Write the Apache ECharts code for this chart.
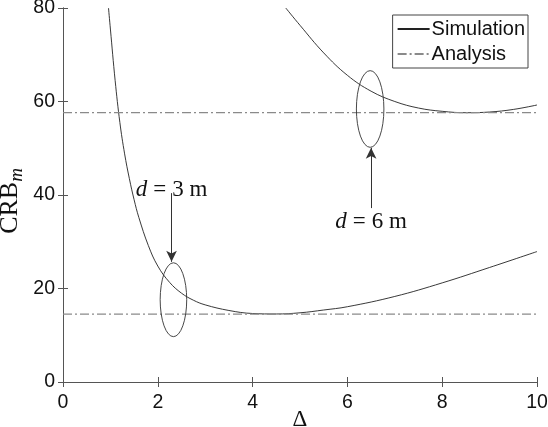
<!DOCTYPE html>
<html>
<head>
<meta charset="utf-8">
<script src="https://cdn.jsdelivr.net/npm/echarts@6/dist/echarts.min.js"></script>
<style>html,body{margin:0;padding:0;background:#fff}#c{width:548px;height:427px}</style>
</head>
<body>
<div id="c"></div>
<script>
// Δ values and CRB_m values
var delta3 = [0.96, 1.0, 1.1, 1.2, 1.3, 1.4, 1.5, 1.6, 1.8, 2.0, 2.25, 2.5, 2.75, 3.0, 3.5, 4.0, 4.5, 5.0, 5.5, 6.0, 7.0, 8.0, 9.0, 10.0];
var sim3   = [80, 75.5, 64.5, 55.5, 48.8, 43.5, 39.0, 35.2, 29.2, 24.8, 21.3, 19.0, 17.5, 16.5, 15.3, 14.65, 14.55, 14.8, 15.4, 16.1, 18.3, 21.2, 24.5, 27.9];
var delta6 = [4.70, 5.0, 5.5, 6.0, 6.5, 7.0, 7.5, 8.0, 8.5, 9.0, 9.5, 10.0];
var sim6   = [80, 76.3, 70.4, 65.6, 62.2, 60.0, 58.6, 57.9, 57.6, 57.75, 58.3, 59.25];
var analysis3 = 14.5;
var analysis6 = 57.6;
var xRange = [0, 10];
var xTicks = [0, 2, 4, 6, 8, 10];
var yTicks = [0, 20, 40, 60, 80];
// annotations: [centerΔ, centerCRB, radiusΔ, radiusCRB]
var ellipse3 = [2.33, 17.6, 0.28, 7.9];
var ellipse6 = [6.48, 58.4, 0.29, 8.2];
var arrow3 = [[2.29, 40.4], [2.29, 25.7]];
var arrow6 = [[6.50, 37.2], [6.50, 50.1]];
var label3 = {pos: [2.29, 41.0], n: '3'};
var label6 = {pos: [6.50, 34.3], n: '6'};

function pairs(xs, ys) { return xs.map(function (x, i) { return [x, ys[i]]; }); }

var axisColor = '#555';
var tickFont = {fontFamily: 'Liberation Sans, Arial, sans-serif', fontSize: 19.5, color: '#111'};
var serif = 'Liberation Serif, Times New Roman, serif';

var chart = echarts.init(document.getElementById('c'), null, {renderer: 'canvas'});

function ellipseRender(params, api) {
  var c = api.coord([api.value(0), api.value(1)]);
  var rx = api.size([api.value(2), 0])[0];
  var ry = api.size([0, api.value(3)])[1];
  var d = 'M' + (c[0] - rx) + ' ' + c[1] +
          ' A' + rx + ' ' + ry + ' 0 1 0 ' + (c[0] + rx) + ' ' + c[1] +
          ' A' + rx + ' ' + ry + ' 0 1 0 ' + (c[0] - rx) + ' ' + c[1] + ' Z';
  return {type: 'path', shape: {pathData: d}, style: {fill: 'none', stroke: '#333', lineWidth: 0.9}};
}
function textRender(params, api) {
  var c = api.coord([api.value(0), api.value(1)]);
  var n = params.dataIndex === 0 ? label3.n : label6.n;
  return {
    type: 'text', x: c[0], y: c[1],
    style: {
      text: '{i|d}{e|=}{t|' + n + ' m}',
      rich: {
        i: {fontStyle: 'italic', fontFamily: serif, fontSize: 23, fill: '#111'},
        e: {fontFamily: serif, fontSize: 23, fill: '#111', padding: [0, 6, 0, 6]},
        t: {fontFamily: serif, fontSize: 23, fill: '#111'}
      },
      align: 'center', verticalAlign: 'middle'
    }
  };
}

var dashDot = [9, 3, 2, 3];

chart.setOption({
  animation: false,
  backgroundColor: '#fff',
  grid: {left: 63, right: 11, top: 8, bottom: 45, containLabel: false, outerBoundsMode: 'none'},
  legend: {
    right: 20, top: 15, orient: 'vertical',
    data: ['Simulation', 'Analysis'],
    itemWidth: 32, itemHeight: 10, itemGap: 5,
    borderColor: '#444', borderWidth: 1, padding: [4, 3, 4, 4],
    backgroundColor: '#fff',
    itemStyle: {opacity: 0},
    textStyle: {fontFamily: 'Liberation Sans, Arial, sans-serif', fontSize: 20, color: '#111', padding: [0, 0, 0, -3]}
  },
  xAxis: [{
    type: 'value', min: xRange[0], max: xRange[1], interval: 2,
    name: 'Δ', nameLocation: 'middle', nameGap: 26, nameMoveOverlap: false,
    nameTextStyle: {fontFamily: serif, fontSize: 23, color: '#111'},
    axisLine: {show: true, lineStyle: {color: axisColor, width: 1}},
    axisTick: {show: true, inside: true, length: 5, lineStyle: {color: axisColor}},
    axisLabel: Object.assign({margin: 11, formatter: function (v) { return xTicks.indexOf(v) >= 0 ? String(v) : ''; }}, tickFont),
    splitLine: {show: false}
  }, {
    type: 'value', position: 'top', min: xRange[0], max: xRange[1], interval: 2,
    axisLine: {show: true, lineStyle: {color: axisColor, width: 1}},
    axisTick: {show: true, inside: true, length: 5, lineStyle: {color: axisColor}},
    axisLabel: {show: false}, splitLine: {show: false}
  }],
  yAxis: [{
    type: 'value', min: 0, max: 80, interval: 20,
    name: '{a|CRB}{b|m}', nameLocation: 'middle', nameGap: 37, nameRotate: 90, nameMoveOverlap: false,
    nameTextStyle: {
      rich: {
        a: {fontFamily: serif, fontSize: 26, color: '#111'},
        b: {fontFamily: serif, fontSize: 19, fontStyle: 'italic', color: '#111', verticalAlign: 'bottom', padding: [12, 12, 0, 0]}
      }
    },
    axisLine: {show: true, lineStyle: {color: axisColor, width: 1}},
    axisTick: {show: true, inside: true, length: 5, lineStyle: {color: axisColor}},
    axisLabel: Object.assign({margin: 8, formatter: function (v) { return yTicks.indexOf(v) >= 0 ? String(v) : ''; }}, tickFont),
    splitLine: {show: false}
  }, {
    type: 'value', position: 'right', min: 0, max: 80, interval: 20,
    axisLine: {show: true, lineStyle: {color: axisColor, width: 1}},
    axisTick: {show: true, inside: true, length: 5, lineStyle: {color: axisColor}},
    axisLabel: {show: false}, splitLine: {show: false}
  }],
  series: [
    {
      name: 'Simulation', type: 'line', data: pairs(delta3, sim3), symbol: 'none', showSymbol: false,
      smooth: 0.4, clip: true,
      lineStyle: {color: '#222', width: 0.9}, itemStyle: {color: '#555'},
      markLine: {
        silent: true, symbol: ['none', 'arrow'], symbolSize: [8, 11],
        label: {show: false},
        lineStyle: {color: '#333', width: 1, type: 'solid'},
        data: [
          [{coord: arrow3[0]}, {coord: arrow3[1]}],
          [{coord: arrow6[0]}, {coord: arrow6[1]}]
        ]
      }
    },
    {
      name: 'Simulation', type: 'line', data: pairs(delta6, sim6), symbol: 'none', showSymbol: false,
      smooth: 0.4, clip: true,
      lineStyle: {color: '#222', width: 0.9}, itemStyle: {color: '#555'}
    },
    {
      name: 'Analysis', type: 'line', data: [[xRange[0], analysis3], [xRange[1], analysis3]], symbol: 'none', showSymbol: false,
      lineStyle: {color: '#8a8a8a', width: 1.2, type: dashDot}, itemStyle: {color: '#8a8a8a'}
    },
    {
      name: 'Analysis', type: 'line', data: [[xRange[0], analysis6], [xRange[1], analysis6]], symbol: 'none', showSymbol: false,
      lineStyle: {color: '#8a8a8a', width: 1.2, type: dashDot}, itemStyle: {color: '#8a8a8a'}
    },
    {
      type: 'custom', renderItem: ellipseRender, data: [ellipse3, ellipse6], silent: true, z: 5
    },
    {
      type: 'custom', renderItem: textRender, data: [label3.pos, label6.pos], silent: true, z: 5
    }
  ]
});
</script>
</body>
</html>
